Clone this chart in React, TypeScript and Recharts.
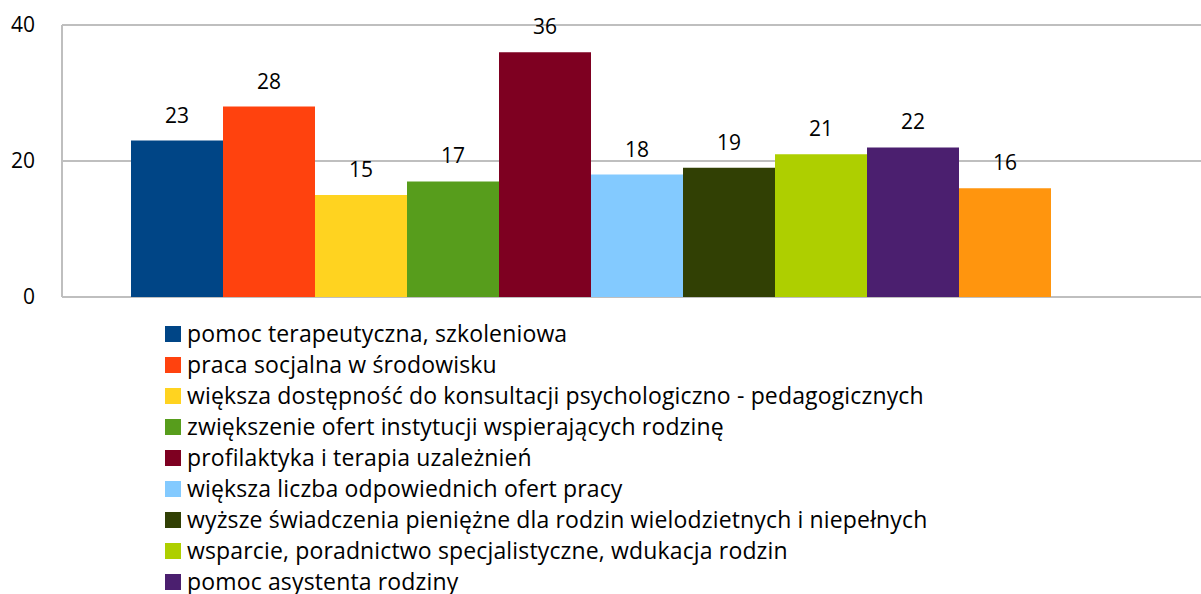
import { BarChart, Bar, XAxis, YAxis, CartesianGrid, LabelList } from "recharts"

const seriesNames = [
  "pomoc terapeutyczna, szkoleniowa",
  "praca socjalna w środowisku",
  "większa dostępność do konsultacji psychologiczno - pedagogicznych",
  "zwiększenie ofert instytucji wspierających rodzinę",
  "profilaktyka i terapia uzależnień",
  "większa liczba odpowiednich ofert pracy",
  "wyższe świadczenia pieniężne dla rodzin wielodzietnych i niepełnych",
  "wsparcie, poradnictwo specjalistyczne, wdukacja rodzin",
  "pomoc asystenta rodziny",
  "inne",
]
const seriesValues = [23, 28, 15, 17, 36, 18, 19, 21, 22, 16]
const seriesColors = [
  "#004586", "#ff420e", "#ffd320", "#579d1c", "#7e0021",
  "#83caff", "#314004", "#aecf00", "#4b1f6f", "#ff950e",
]
const yTicks = [0, 20, 40]

const row: Record<string, string | number> = { name: "" }
seriesValues.forEach((v, i) => {
  row[`s${i}`] = v
})
const data = [row]

const font = "'Open Sans', sans-serif"

function LegendList() {
  return (
    <div style={{ position: "absolute", left: 165, top: 318, fontFamily: font, fontSize: 23, color: "#000" }}>
      {seriesNames.map((name, i) => (
        <div key={name} style={{ display: "flex", alignItems: "center", height: 31 }}>
          <span style={{ width: 16, height: 16, background: seriesColors[i], marginRight: 6, flexShrink: 0 }} />
          <span style={{ whiteSpace: "nowrap", lineHeight: "31px", letterSpacing: 0.15 }}>{name}</span>
        </div>
      ))}
    </div>
  )
}

export default function App() {
  return (
    <div style={{ position: "absolute", left: 0, top: 0, width: 1201, height: 594, overflow: "hidden", background: "#fff" }}>
      <BarChart
        width={1201}
        height={310}
        data={data}
        margin={{ top: 25, right: 0, left: 0, bottom: 13 }}
        barGap={0}
        barCategoryGap={69}
      >
        <CartesianGrid vertical={false} stroke="#bfbfbf" strokeWidth={2} />
        <XAxis dataKey="name" tick={false} tickLine={false} axisLine={{ stroke: "#bfbfbf", strokeWidth: 2 }} height={0} padding={{ left: 0, right: 79 }} />
        <YAxis
          domain={[0, 40]}
          ticks={yTicks}
          width={62}
          tickLine={false}
          tickSize={0}
          tickMargin={27}
          axisLine={{ stroke: "#bfbfbf", strokeWidth: 2 }}
          tick={{ fill: "#000", fontSize: 21, fontFamily: font }}
        />
        {seriesNames.map((name, i) => (
          <Bar key={name} dataKey={`s${i}`} name={name} fill={seriesColors[i]} isAnimationActive={false}>
            <LabelList dataKey={`s${i}`} position="top" offset={18} fill="#000" fontSize={21} fontFamily={font} />
          </Bar>
        ))}
      </BarChart>
      <LegendList />
    </div>
  )
}
